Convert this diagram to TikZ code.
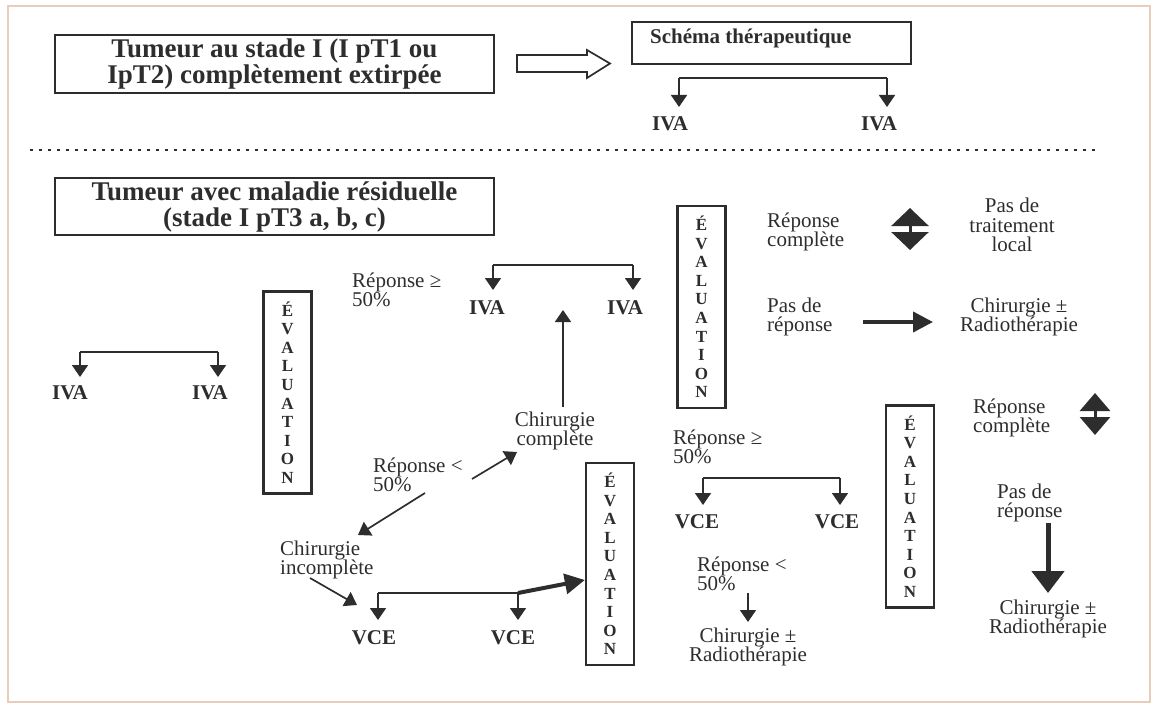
\documentclass[tikz,border=0pt]{standalone}
\usepackage{fontspec}
\setmainfont{Liberation Serif}
\usetikzlibrary{arrows.meta}
\definecolor{framecol}{RGB}{234,204,186}
\definecolor{ink}{RGB}{45,45,45}
\begin{document}
\begin{tikzpicture}[x=1pt,y=-1pt,
 box/.style={draw=ink, line width=2.3pt, inner sep=0pt, text=ink},
 evalbox/.style={box, minimum width=48pt, minimum height=202pt, align=center, font=\fontsize{17}{18.6}\selectfont\bfseries},
 big/.style={font=\fontsize{27}{26}\selectfont\bfseries, align=center},
 lbl/.style={font=\fontsize{21}{19.5}\selectfont, text=ink, inner sep=0pt},
 bl/.style={font=\fontsize{21}{20}\selectfont\bfseries, text=ink, inner sep=0pt},
 conn/.style={draw=ink, line width=1.7pt},
 arr/.style={conn, -{Triangle[width=16pt,length=12pt]}},
 fatarr/.style={draw=ink, line width=4pt, -{Triangle[width=20pt,length=20pt]}},
 fatdown/.style={draw=ink, line width=5pt, -{Triangle[width=32pt,length=22pt]}},
 dblA/.style={draw=ink, line width=3pt, {Triangle[width=37pt,length=18pt]}-{Triangle[width=37pt,length=18pt]}},
 dblB/.style={draw=ink, line width=3pt, {Triangle[width=30pt,length=18pt]}-{Triangle[width=30pt,length=18pt]}}
]
\useasboundingbox (0,0) rectangle (1160,706);
\draw[framecol, line width=2.5pt] (8,6) rectangle (1150,702);

% ---- top part ----
\node[box, big, minimum width=439pt, minimum height=58pt] (t1) at (274.5,64) {Tumeur au stade I (I pT1 ou\\IpT2) complètement extirpée};
\draw[ink, line width=1.7pt, line join=miter] (517,55) -- (587,55) -- (587,50) -- (610,63.5) -- (587,78) -- (587,72) -- (517,72) -- cycle;
\node[box, minimum width=279pt, minimum height=42pt] (sch) at (771.5,43) {};
\node[font=\fontsize{21}{21}\selectfont\bfseries, text=ink, anchor=west, inner sep=0pt] (schtxt) at (650,38) {Schéma thérapeutique};
\coordinate (tb1) at (679,78); \coordinate (tb2) at (887,78);
\coordinate (tt1) at (679,107); \coordinate (tt2) at (887,107);
\node[bl] (iva1) at (670,124) {IVA};
\node[bl] (iva2) at (879,124) {IVA};
\draw[conn] (tb1) -- (tb2);
\draw[arr] (tb1) -- (tt1);
\draw[arr] (tb2) -- (tt2);

\draw[ink, line width=2.6pt, dash pattern=on 3pt off 6pt] (30,150) -- (1096,150);

% ---- lower part ----
\node[box, big, minimum width=439pt, minimum height=57pt] (t2) at (274.5,206.5) {Tumeur avec maladie résiduelle\\(stade I pT3 a, b, c)};

% left bracket
\coordinate (lb1) at (80,352); \coordinate (lb2) at (218,352);
\coordinate (lt1) at (80,377); \coordinate (lt2) at (218,377);
\node[bl] (iva3) at (70,393) {IVA};
\node[bl] (iva4) at (210,393) {IVA};
\draw[conn] (lb1) -- (lb2);
\draw[arr] (lb1) -- (lt1);
\draw[arr] (lb2) -- (lt2);

\node[evalbox] (ev1) at (287.5,392.5) {É\\V\\A\\L\\U\\A\\T\\I\\O\\N};
\node[evalbox] (ev2) at (701.5,307) {É\\V\\A\\L\\U\\A\\T\\I\\O\\N};
\node[evalbox] (ev3) at (610,564) {É\\V\\A\\L\\U\\A\\T\\I\\O\\N};
\node[evalbox] (ev4) at (910,506.5) {É\\V\\A\\L\\U\\A\\T\\I\\O\\N};

% middle bracket
\node[lbl, anchor=west, align=left] (rge1) at (352,290) {Réponse ≥\\50\%};
\coordinate (mb1) at (493,265); \coordinate (mb2) at (633,265);
\coordinate (mt1) at (493,290); \coordinate (mt2) at (633,290);
\node[bl] (iva5) at (487,308) {IVA};
\node[bl] (iva6) at (625,308) {IVA};
\draw[conn] (mb1) -- (mb2);
\draw[arr] (mb1) -- (mt1);
\draw[arr] (mb2) -- (mt2);

\node[lbl, align=center] (cc) at (555,431) {Chirurgie\\complète};
\coordinate (up1) at (563,407); \coordinate (up2) at (563,310);
\draw[arr] (up1) -- (up2);

\node[lbl, anchor=west, align=left] (rlt1) at (373,475) {Réponse <\\50\%};
\coordinate (d1a) at (472,479); \coordinate (d1b) at (517,452);
\draw[arr] (d1a) -- (d1b);
\coordinate (d2a) at (425,493); \coordinate (d2b) at (358,535);
\draw[arr] (d2a) -- (d2b);
\node[lbl, anchor=west, align=left] (ci) at (280,560) {Chirurgie\\incomplète};
\coordinate (d3a) at (310,578); \coordinate (d3b) at (357,605);
\draw[arr] (d3a) -- (d3b);

% VCE bracket bottom
\coordinate (vb1) at (378,593); \coordinate (vb2) at (518,593);
\coordinate (vt1) at (378,620); \coordinate (vt2) at (518,620);
\node[bl] (vce1) at (374,638) {VCE};
\node[bl] (vce2) at (513,638) {VCE};
\draw[conn] (vb1) -- (vb2);
\draw[arr] (vb1) -- (vt1);
\draw[arr] (vb2) -- (vt2);
\draw[fatarr] (vb2) -- (ev3.west |- 0,580);

% right of upper evaluation
\node[lbl, anchor=west, align=left] (rc1) at (767,232) {Réponse\\complète};
\coordinate (da1) at (910,208); \coordinate (da2) at (910,250);
\draw[dblA] (da1) -- (da2);
\node[lbl, align=center] (pdt) at (1012,225) {Pas de\\traitement\\local};
\node[lbl, anchor=west, align=left] (pdr1) at (767,317) {Pas de\\réponse};
\coordinate (fa1) at (863,322); \coordinate (fa2) at (933,322);
\draw[fatarr] (fa1) -- (fa2);
\node[lbl, align=center] (cr1) at (1019,317) {Chirurgie ±\\Radiothérapie};

% right-middle
\node[lbl, anchor=west, align=left] (rge2) at (673,447) {Réponse ≥\\50\%};
\coordinate (rb1) at (703,478); \coordinate (rb2) at (840,478);
\coordinate (rt1) at (703,505); \coordinate (rt2) at (840,505);
\node[bl] (vce3) at (697,522) {VCE};
\node[bl] (vce4) at (837,522) {VCE};
\draw[conn] (rb1) -- (rb2);
\draw[arr] (rb1) -- (rt1);
\draw[arr] (rb2) -- (rt2);
\node[lbl, anchor=west, align=left] (rlt2) at (697,574) {Réponse <\\50\%};
\coordinate (sa1) at (748,593); \coordinate (sa2) at (748,622);
\draw[arr] (sa1) -- (sa2);
\node[lbl, align=center] (cr2) at (748,647) {Chirurgie ±\\Radiothérapie};

% far right
\node[lbl, anchor=west, align=left] (rc2) at (973,418) {Réponse\\complète};
\coordinate (db1) at (1095,393); \coordinate (db2) at (1095,435);
\draw[dblB] (db1) -- (db2);
\node[lbl, anchor=west, align=left] (pdr2) at (997,503) {Pas de\\réponse};
\coordinate (fd1) at (1048,523); \coordinate (fd2) at (1048,593);
\draw[fatdown] (fd1) -- (fd2);
\node[lbl, align=center] (cr3) at (1048,619) {Chirurgie ±\\Radiothérapie};
\end{tikzpicture}
\end{document}
